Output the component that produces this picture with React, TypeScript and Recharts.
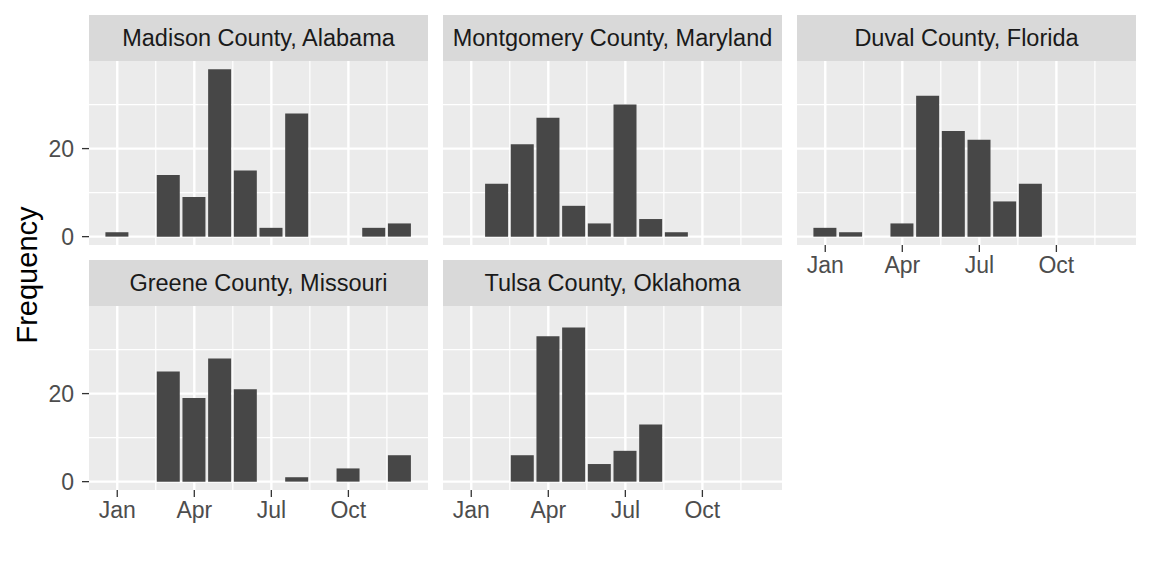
import { BarChart, Bar, XAxis, YAxis, CartesianGrid } from "recharts";

const MONTHS = ["Jan", "Feb", "Mar", "Apr", "May", "Jun", "Jul", "Aug", "Sep", "Oct", "Nov", "Dec"];

// monthly counts, Jan..Dec
const madison = [1, 0, 14, 9, 38, 15, 2, 28, 0, 0, 2, 3];
const montgomery = [0, 12, 21, 27, 7, 3, 30, 4, 1, 0, 0, 0];
const duval = [2, 1, 0, 3, 32, 24, 22, 8, 12, 0, 0, 0];
const greene = [0, 0, 25, 19, 28, 21, 0, 1, 0, 3, 0, 6];
const tulsa = [0, 0, 6, 33, 35, 4, 7, 13, 0, 0, 0, 0];

const X_TICKS = [0, 3, 6, 9];
const X_MINOR = [1.5, 4.5, 7.5, 10.5];
const Y_TICKS = [0, 20];
const Y_MINOR = [10, 30];

const FONT = '"Liberation Sans", Arial, Helvetica, sans-serif';

const STRIP_H = 46;
const PANEL_H = 184;
const PANEL_W = 339;
const COL_X = [89, 443, 797];
const ROW_Y = [15, 260];

interface PanelProps {
  title: string;
  counts: number[];
  col: number;
  row: number;
  showY: boolean;
  showX: boolean;
}

function Panel({ title, counts, col, row, showY, showX }: PanelProps) {
  const data = counts.map((v, i) => ({ m: i, v }));
  const yW = showY ? COL_X[0] : 0;
  const xH = showX ? 40 : 0;
  // room below the plot for the "0" label when there is no x axis
  const padB = showX ? 0 : 14;
  const left = COL_X[col];
  const top = ROW_Y[row];

  return (
    <>
      <div
        style={{
          position: "absolute",
          left,
          top,
          width: PANEL_W,
          height: STRIP_H,
          background: "#D9D9D9",
          color: "#1A1A1A",
          fontSize: 23.5,
          lineHeight: `${STRIP_H}px`,
          textAlign: "center",
          fontFamily: FONT,
        }}
      >
        {title}
      </div>
      <div style={{ position: "absolute", left: left - yW, top: top + STRIP_H }}>
        <BarChart
          width={PANEL_W + yW}
          height={PANEL_H + xH + padB}
          data={data}
          margin={{ top: 0, right: 0, bottom: padB, left: 0 }}
        >
          <CartesianGrid
            fill="#EBEBEB"
            fillOpacity={1}
            stroke="#FFFFFF"
            strokeWidth={1.2}
            horizontalValues={Y_MINOR}
            verticalValues={X_MINOR}
          />
          <CartesianGrid
            fill="none"
            stroke="#FFFFFF"
            strokeWidth={2.4}
            horizontalValues={Y_TICKS}
            verticalValues={X_TICKS}
          />
          <XAxis
            type="number"
            dataKey="m"
            domain={[-1.1, 12.1]}
            allowDataOverflow
            ticks={X_TICKS}
            interval={0}
            tickFormatter={(i: number) => MONTHS[i]}
            hide={!showX}
            height={xH}
            axisLine={false}
            tickSize={7}
            tickMargin={5}
            tickLine={{ stroke: "#333333", strokeWidth: 1.3 }}
            tick={{ fontSize: 23, fill: "#4D4D4D", fontFamily: FONT }}
          />
          <YAxis
            type="number"
            domain={[-1.9, 39.9]}
            allowDataOverflow
            ticks={Y_TICKS}
            interval={0}
            hide={!showY}
            width={yW}
            axisLine={false}
            tickSize={7}
            tickMargin={8}
            tickLine={{ stroke: "#333333", strokeWidth: 1.3 }}
            tick={{ fontSize: 23, fill: "#4D4D4D", fontFamily: FONT }}
          />
          <Bar dataKey="v" fill="#474747" barSize={23} isAnimationActive={false} />
        </BarChart>
      </div>
    </>
  );
}

export default function App() {
  return (
    <div
      style={{
        position: "absolute",
        left: 0,
        top: 0,
        width: 1152,
        height: 576,
        background: "#FFFFFF",
        fontFamily: FONT,
      }}
    >
      <Panel title="Madison County, Alabama" counts={madison} col={0} row={0} showY showX={false} />
      <Panel title="Montgomery County, Maryland" counts={montgomery} col={1} row={0} showY={false} showX={false} />
      <Panel title="Duval County, Florida" counts={duval} col={2} row={0} showY={false} showX />
      <Panel title="Greene County, Missouri" counts={greene} col={0} row={1} showY showX />
      <Panel title="Tulsa County, Oklahoma" counts={tulsa} col={1} row={1} showY={false} showX />
      <div
        style={{
          position: "absolute",
          left: 27,
          top: 275,
          transform: "translate(-50%, -50%) rotate(-90deg)",
          fontSize: 29,
          color: "#000000",
          whiteSpace: "nowrap",
        }}
      >
        Frequency
      </div>
    </div>
  );
}
